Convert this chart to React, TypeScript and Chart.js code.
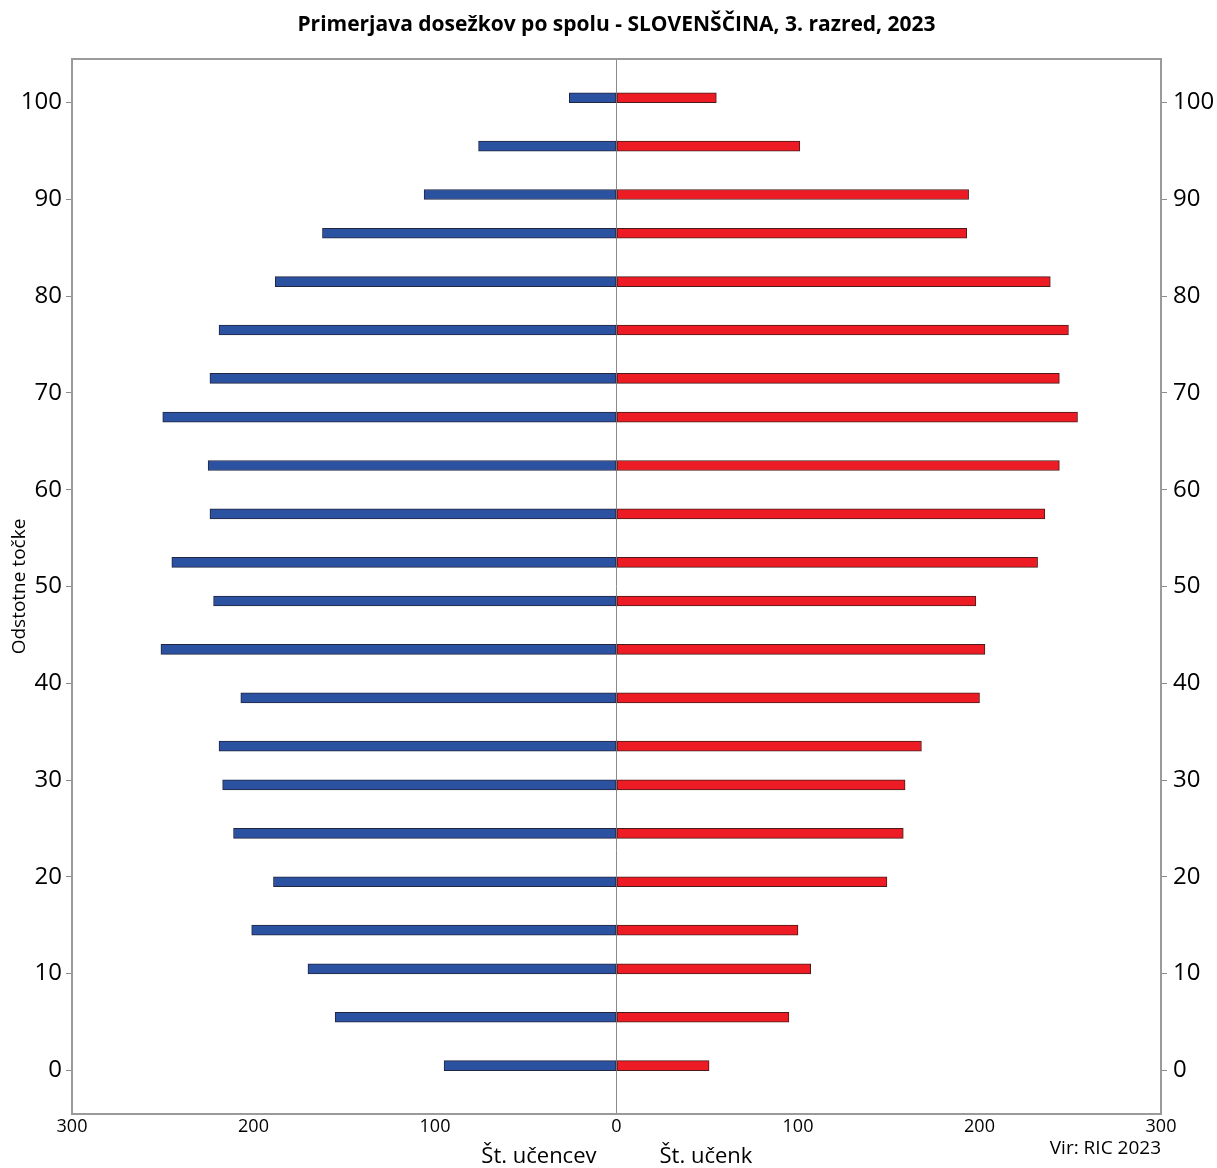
import React, { useEffect, useRef } from 'react';
import { Chart, registerables } from 'chart.js';

Chart.register(...registerables);

const TITLE = 'Primerjava dosežkov po spolu - SLOVENŠČINA, 3. razred, 2023';
const Y_TITLE = 'Odstotne točke';
const LEFT_LABEL = 'Št. učencev';
const RIGHT_LABEL = 'Št. učenk';
const SOURCE = 'Vir: RIC 2023';

// score positions (bars span score .. score+1)
const scores = [0, 5, 10, 14, 19, 24, 29, 33, 38, 43, 48, 52, 57, 62, 67, 71, 76, 81, 86, 90, 95, 100];
const boys = [95, 155, 170, 201, 189, 211, 217, 219, 207, 251, 222, 245, 224, 225, 250, 224, 219, 188, 162, 106, 76, 26];
const girls = [51, 95, 107, 100, 149, 158, 159, 168, 200, 203, 198, 232, 236, 244, 254, 244, 249, 239, 193, 194, 101, 55];

const yTicks = [0, 10, 20, 30, 40, 50, 60, 70, 80, 90, 100];
const xTicks = [-300, -200, -100, 0, 100, 200, 300];

const FONT = "'Open Sans', 'DejaVu Sans', sans-serif";
const FRAME = '#9a9a9a';

const decor = {
  id: 'decor',
  beforeDatasetsDraw(chart: any) {
    const { ctx, chartArea: a, scales } = chart;
    const x0 = scales.x.getPixelForValue(0);
    ctx.save();
    ctx.strokeStyle = '#8a8a8a';
    ctx.lineWidth = 1;
    ctx.beginPath();
    ctx.moveTo(x0, a.top);
    ctx.lineTo(x0, a.bottom);
    ctx.stroke();
    ctx.restore();
  },
  afterDraw(chart: any) {
    const { ctx, chartArea: a, scales } = chart;
    const x0 = scales.x.getPixelForValue(0);
    ctx.save();
    ctx.strokeStyle = FRAME;
    ctx.lineWidth = 2;
    ctx.strokeRect(a.left, a.top, a.right - a.left, a.bottom - a.top);

    ctx.fillStyle = '#000';
    ctx.textBaseline = 'middle';
    ctx.font = `bold 21px ${FONT}`;
    ctx.textAlign = 'center';
    ctx.fillText(TITLE, (a.left + a.right) / 2, 25);

    ctx.font = `22px ${FONT}`;
    ctx.textAlign = 'right';
    ctx.fillText(LEFT_LABEL, x0 - 20, 1157);
    ctx.textAlign = 'left';
    ctx.fillText(RIGHT_LABEL, x0 + 43, 1157);

    ctx.font = `19px ${FONT}`;
    ctx.textAlign = 'right';
    ctx.fillText(SOURCE, a.right, 1149);
    ctx.restore();
  },
};

export default function App() {
  const ref = useRef<HTMLCanvasElement>(null);

  useEffect(() => {
    if (!ref.current) return;
    const setTicks = (axis: any) => {
      axis.ticks = yTicks.map((v) => ({ value: v }));
    };
    const chart = new Chart(ref.current, {
      type: 'bar',
      data: {
        datasets: [
          {
            label: LEFT_LABEL,
            data: scores.map((s, i) => ({ x: -boys[i], y: s + 0.5 })),
            backgroundColor: '#2B51A1',
            borderColor: '#23263f',
            borderWidth: 1,
            borderSkipped: false,
            barThickness: 10,
            grouped: false,
          } as any,
          {
            label: RIGHT_LABEL,
            data: scores.map((s, i) => ({ x: girls[i], y: s + 0.5 })),
            backgroundColor: '#ED1C24',
            borderColor: '#4a1a1a',
            borderWidth: 1,
            borderSkipped: false,
            barThickness: 10,
            grouped: false,
          } as any,
        ],
      },
      options: {
        indexAxis: 'y',
        animation: false,
        responsive: true,
        maintainAspectRatio: false,
        layout: { padding: { top: 59, left: 0, right: 0, bottom: 0 } },
        plugins: {
          legend: { display: false },
          tooltip: { enabled: false },
          title: { display: false },
        },
        scales: {
          x: {
            type: 'linear',
            min: -300,
            max: 300,
            offset: false,
            afterBuildTicks: (axis: any) => {
              axis.ticks = xTicks.map((v) => ({ value: v }));
            },
            afterFit: (axis: any) => {
              axis.height = 54;
            },
            ticks: {
              callback: (v: any) => String(Math.abs(Number(v))),
              font: { size: 18, family: FONT },
              color: '#000',
              padding: 2,
              maxRotation: 0,
              autoSkip: false,
            },
            grid: { drawOnChartArea: false, drawTicks: false, offset: false },
            border: { display: false },
          },
          y: {
            type: 'linear',
            position: 'left',
            min: -4.5,
            max: 104.5,
            offset: false,
            bounds: 'data',
            afterBuildTicks: setTicks,
            afterFit: (axis: any) => {
              axis.width = 72;
            },
            ticks: {
              font: { size: 24, family: FONT },
              color: '#000',
              padding: 4,
              autoSkip: false,
            },
            grid: { drawOnChartArea: false, drawTicks: true, tickLength: 6, tickColor: '#8a8a8a', offset: false },
            border: { display: false },
            title: {
              display: true,
              text: Y_TITLE,
              font: { size: 19, family: FONT },
              color: '#000',
              padding: { top: 8, bottom: 0 },
            },
          },
          y2: {
            type: 'linear',
            position: 'right',
            display: true,
            min: -4.5,
            max: 104.5,
            offset: false,
            bounds: 'data',
            afterBuildTicks: setTicks,
            afterFit: (axis: any) => {
              axis.width = 56;
            },
            ticks: {
              font: { size: 24, family: FONT },
              color: '#000',
              padding: 6,
              autoSkip: false,
            },
            grid: { drawOnChartArea: false, drawTicks: true, tickLength: 6, tickColor: '#8a8a8a', offset: false },
            border: { display: false },
          },
        },
      } as any,
      plugins: [decor],
    });
    return () => chart.destroy();
  }, []);

  return (
    <div style={{ position: 'absolute', left: 0, top: 0, width: 1217, height: 1168, background: '#fff' }}>
      <canvas ref={ref} />
    </div>
  );
}
